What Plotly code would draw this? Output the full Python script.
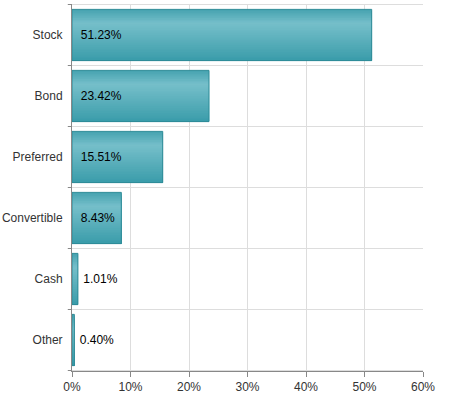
import plotly.graph_objects as go

categories = ["Stock", "Bond", "Preferred", "Convertible", "Cash", "Other"]
values = [51.23, 23.42, 15.51, 8.43, 1.01, 0.40]
labels = ["51.23%", "23.42%", "15.51%", "8.43%", "1.01%", "0.40%"]
text_positions = ["inside", "inside", "inside", "inside", "outside", "outside"]
x_tickvals = [0, 10, 20, 30, 40, 50, 60]
x_ticktext = ["0%", "10%", "20%", "30%", "40%", "50%", "60%"]

BAR_W = 0.84
N_STRIPS = 30

def lerp(c1, c2, t):
    return tuple(round(a + (b - a) * t) for a, b in zip(c1, c2))

TOP = (0x45, 0xa2, 0xaf)
PEAK = (0x76, 0xbf, 0xca)
BOT = (0x3a, 0x9c, 0xaa)
PEAK_AT = 0.27

def grad_color(t):
    if t <= PEAK_AT:
        c = lerp(TOP, PEAK, t / PEAK_AT)
    else:
        c = lerp(PEAK, BOT, (t - PEAK_AT) / (1 - PEAK_AT))
    return "rgb(%d,%d,%d)" % c

fig = go.Figure()
step = BAR_W / N_STRIPS
for i in range(N_STRIPS):
    t = (i + 0.5) / N_STRIPS
    off = -BAR_W / 2 + i * step
    fig.add_trace(go.Bar(
        x=values, y=categories, orientation="h",
        width=BAR_W / 2 - off, offset=off,
        marker=dict(color=grad_color(t), line=dict(width=0)),
        hoverinfo="skip", showlegend=False,
    ))

texts = [(" \u2009" + l) if p == "inside" else ("\u2009" + l) for l, p in zip(labels, text_positions)]

# outline + labels
fig.add_trace(go.Bar(
    x=values, y=categories, orientation="h",
    width=BAR_W,
    marker=dict(color="rgba(0,0,0,0)", line=dict(color="#2e8b97", width=1)),
    text=texts, textposition=text_positions,
    insidetextanchor="start",
    textfont=dict(family="Liberation Sans, Arial, sans-serif", size=12, color="#000000"),
    cliponaxis=False,
    showlegend=False,
))

fig.update_layout(
    barmode="overlay",
    width=473, height=397,
    margin=dict(l=72, r=50, t=4, b=26, pad=0),
    paper_bgcolor="white", plot_bgcolor="white",
    font=dict(family="Liberation Sans, Arial, sans-serif", size=12, color="#333333"),
)
fig.update_xaxes(
    range=[0, 60], tickvals=x_tickvals, ticktext=x_ticktext,
    showgrid=True, gridcolor="#dddddd", gridwidth=1,
    showline=True, linecolor="#888888", linewidth=1,
    ticks="outside", ticklen=5, tickcolor="#888888",
    zeroline=False, fixedrange=True, automargin=False,
    tickfont=dict(size=12, color="#333333"),
)
fig.update_yaxes(
    categoryorder="array", categoryarray=categories, autorange="reversed",
    showgrid=False, showline=True, linecolor="#888888", linewidth=1,
    ticks="", zeroline=False, automargin=False, fixedrange=True,
    tickfont=dict(size=12, color="#333333"),
    ticklabelstandoff=6,
)
# category boundary gridlines and tick marks
shapes = []
for k in range(len(categories) + 1):
    yv = k - 0.5
    shapes.append(dict(type="line", xref="paper", yref="y", x0=0, x1=1, y0=yv, y1=yv,
                       line=dict(color="#dddddd", width=1), layer="below"))
    shapes.append(dict(type="line", xref="paper", yref="y", x0=-0.012, x1=0, y0=yv, y1=yv,
                       line=dict(color="#888888", width=1)))
fig.update_layout(shapes=shapes)

fig.write_html("out.html", config={"displayModeBar": False},
               post_script="document.body.style.margin='0px';")
